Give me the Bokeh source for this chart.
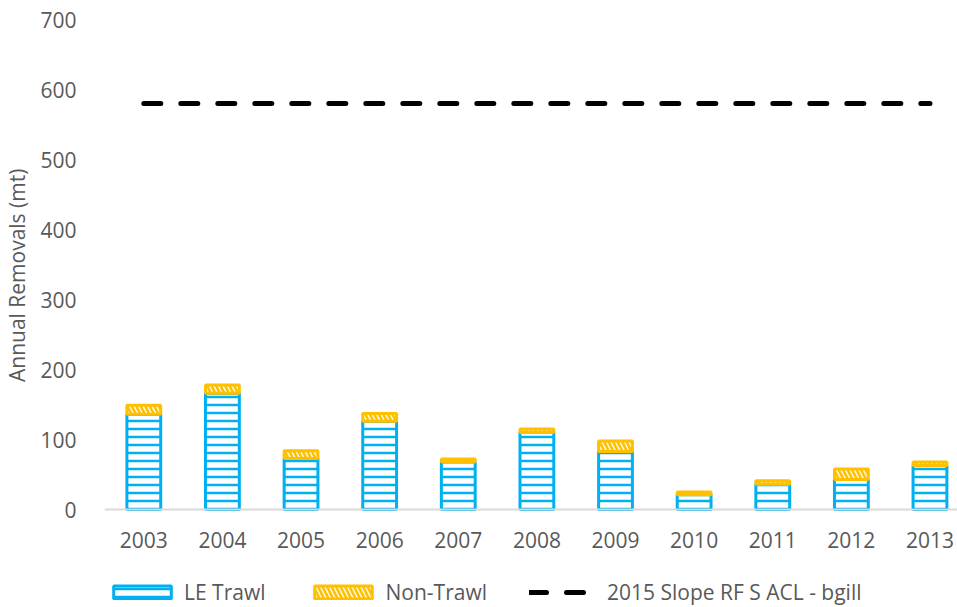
from bokeh.plotting import figure
from bokeh.models import (ColumnDataSource, Range1d, FixedTicker, Legend, LegendItem)
from bokeh.embed import file_html
from bokeh.resources import INLINE

years = ["2003", "2004", "2005", "2006", "2007", "2008", "2009", "2010", "2011", "2012", "2013"]
le_trawl = [136, 166, 73, 126, 68, 110, 83, 21, 36, 43, 63]
non_trawl = [13, 12, 11, 11, 4, 5, 15, 4, 5, 15, 5]
acl_2015 = 580
y_ticks = [0, 100, 200, 300, 400, 500, 600, 700]

idx = list(range(len(years)))
totals = [a + b for a, b in zip(le_trawl, non_trawl)]
src = ColumnDataSource(dict(x=idx, le=le_trawl, nt=non_trawl, tot=totals))

FONT = "Open Sans"
TXT = "#595959"
BLUE = "#00B0F0"
GOLD = "#FFC000"
FS = "21px"

p = figure(width=957, height=607, output_backend="svg", toolbar_location=None,
           x_range=Range1d(-0.5, 10.35), y_range=Range1d(-140, 700),
           min_border_left=103, min_border_right=0, min_border_top=19,
           min_border_bottom=0)
p.outline_line_color = None
p.background_fill_color = "white"
p.border_fill_color = "white"
p.xgrid.visible = False
p.ygrid.visible = False

r_le = p.vbar(x="x", top="le", bottom=0, width=0.43, source=src,
              fill_color="white", line_color=BLUE, line_width=3,
              hatch_pattern="horizontal_line", hatch_color=BLUE,
              hatch_weight=2.5, hatch_scale=8)
r_nt = p.vbar(x="x", top="tot", bottom="le", width=0.43, source=src,
              fill_color=GOLD, line_color=GOLD, line_width=3,
              hatch_pattern="left_diagonal_line", hatch_color="white",
              hatch_weight=1.5, hatch_scale=9, hatch_alpha=0.9)
r_acl = p.line(x=[idx[0], idx[-1]], y=[acl_2015, acl_2015], line_color="black",
               line_width=5, line_dash="17 20", line_cap="round")

xa = p.xaxis[0]
xa.fixed_location = 0
xa.ticker = FixedTicker(ticks=idx)
xa.major_label_overrides = {i: y for i, y in zip(idx, years)}
xa.axis_line_color = "#D9D9D9"
xa.axis_line_width = 2
xa.major_tick_line_color = None
xa.minor_tick_line_color = None
xa.major_label_standoff = 16
xa.major_label_text_font = FONT
xa.major_label_text_font_size = FS
xa.major_label_text_color = TXT

ya = p.yaxis[0]
ya.ticker = FixedTicker(ticks=y_ticks)
ya.axis_line_color = None
ya.major_tick_line_color = None
ya.minor_tick_line_color = None
ya.major_label_standoff = 22
ya.major_label_text_font = FONT
ya.major_label_text_font_size = FS
ya.major_label_text_color = TXT
# leading no-break spaces shift the rotated label up to where the reference has it
ya.axis_label = "\u00a0" * 14 + "Annual Removals (mt)"
ya.axis_label_text_font = FONT
ya.axis_label_text_font_size = FS
ya.axis_label_text_font_style = "normal"
ya.axis_label_text_color = TXT
ya.axis_label_standoff = 6

legend = Legend(items=[
    LegendItem(label="LE Trawl", renderers=[r_le]),
    LegendItem(label="Non-Trawl", renderers=[r_nt]),
    LegendItem(label="2015 Slope RF S ACL - bgill", renderers=[r_acl]),
], orientation="horizontal", location=(2, 1))
legend.glyph_width = 72
legend.glyph_height = 16
legend.label_standoff = 6
legend.spacing = 42
legend.padding = 3
legend.margin = 0
legend.border_line_color = None
legend.background_fill_alpha = 0
legend.label_text_font = FONT
legend.label_text_font_size = FS
legend.label_text_color = TXT
p.add_layout(legend, "center")

open("out.html", "w").write(file_html(p, INLINE))
